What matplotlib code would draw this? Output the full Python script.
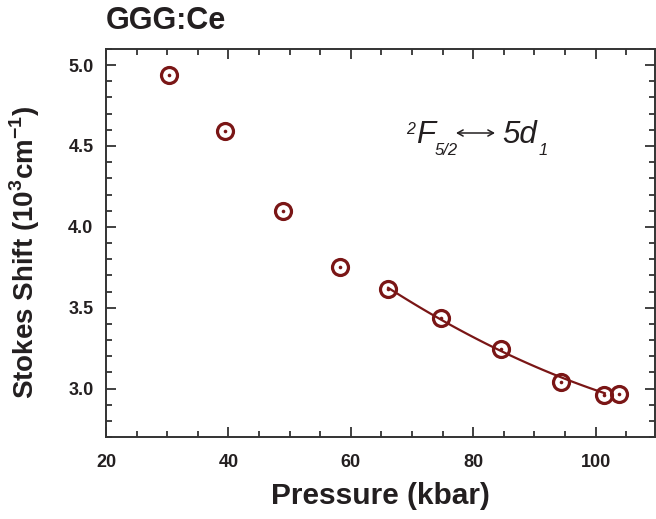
import numpy as np
import matplotlib
matplotlib.use("Agg")
import matplotlib.pyplot as plt
from matplotlib.ticker import MultipleLocator, FormatStrFormatter

# data
pressure = [30.3, 39.4, 48.9, 58.3, 66.1, 74.8, 84.5, 94.3, 101.3, 103.8]
stokes_shift = [4.94, 4.593, 4.10, 3.753, 3.613, 3.438, 3.247, 3.043, 2.959, 2.966]
fit_start = 4  # fitted line runs through the high-pressure points

plt.rcParams["font.family"] = ["Liberation Sans", "DejaVu Sans"]
plt.rcParams["mathtext.fontset"] = "custom"
plt.rcParams["mathtext.rm"] = "Liberation Sans"
plt.rcParams["mathtext.bf"] = "Liberation Sans:bold"

TEXT = "#231f20"
RED = "#7a1616"
W, H = 656, 519

fig = plt.figure(figsize=(W / 100, H / 100), dpi=100)
ax = fig.add_axes([106 / W, 1 - 437 / H, 549 / W, 388 / H])

px = np.array(pressure[fit_start:])
py = np.array(stokes_shift[fit_start:])
coef = np.polyfit(px, py, 2)
xx = np.linspace(px.min(), 101.5, 50)
ax.plot(xx, np.polyval(coef, xx), color=RED, lw=1.6, zorder=2)

ax.plot(pressure, stokes_shift, ls="none", marker="o", ms=11.5, mfc="none",
        mec=RED, mew=2.3, zorder=3)
ax.plot(pressure, stokes_shift, ls="none", marker="o", ms=2.6, mfc=RED,
        mec=RED, mew=0, zorder=4)

ax.set_xlim(20, 109.7)
ax.set_ylim(2.7, 5.1)
ax.xaxis.set_major_locator(MultipleLocator(20))
ax.xaxis.set_minor_locator(MultipleLocator(5))
ax.yaxis.set_major_locator(MultipleLocator(0.5))
ax.yaxis.set_minor_locator(MultipleLocator(0.1))
ax.yaxis.set_major_formatter(FormatStrFormatter("%.1f"))

for s in ax.spines.values():
    s.set_color("#333333")
    s.set_linewidth(1.4)

ax.tick_params(which="both", direction="in", top=True, right=True,
               color="#333333", width=1.3)
ax.tick_params(which="major", length=7)
ax.tick_params(which="minor", length=4)
ax.tick_params(axis="x", which="major", pad=12)
ax.tick_params(axis="y", which="major", pad=9)
for lab in ax.get_xticklabels() + ax.get_yticklabels():
    lab.set_fontweight("bold")
    lab.set_fontsize(13)
    lab.set_color(TEXT)

ax.set_xlabel("Pressure (kbar)", fontsize=21.5, fontweight="bold", color=TEXT,
              labelpad=8)
ax.set_ylabel(r"Stokes Shift (10$^{\mathbf{3}}$cm$^{\mathbf{-1}}$)",
              fontsize=20, fontweight="bold", color=TEXT)
ax.yaxis.set_label_coords(-0.116, 0.477)

fig.text(106 / W, 1 - 21 / H, "GGG:Ce", fontsize=22, fontweight="bold",
         color=TEXT, va="center", ha="left")


# transition label, built piece by piece (pixel positions from the reference)
def label(x, y, s, size):
    fig.text(x / W, 1 - y / H, s, fontsize=size, fontstyle="italic",
             color=TEXT, ha="left", va="baseline")


label(406, 134, "2", 11.5)
label(416, 143, "F", 22.5)
label(435, 155, "5/2", 12)
label(502, 143, "5d", 22.5)
label(539, 155, "1", 12)
fig.add_artist(matplotlib.patches.FancyArrowPatch(
    (456 / W, 1 - 133 / H), (495 / W, 1 - 133 / H), transform=fig.transFigure,
    arrowstyle="<->,head_length=4,head_width=2.2", lw=1.1, color=TEXT,
    shrinkA=0, shrinkB=0))

fig.savefig("out.png", dpi=100)
